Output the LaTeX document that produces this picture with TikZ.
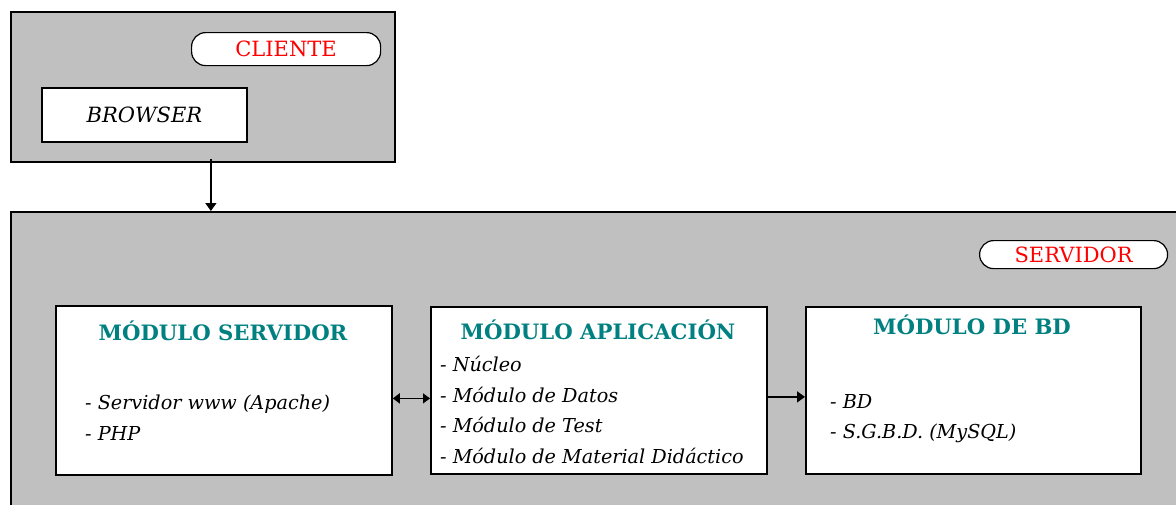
\documentclass[tikz,border=0pt]{standalone}
\usepackage{fontspec}
\setmainfont{DejaVu Serif}
\usetikzlibrary{arrows.meta,calc}
\definecolor{panelgray}{HTML}{C0C0C0}
\definecolor{titleteal}{HTML}{008080}
\definecolor{tagred}{HTML}{FF0000}
\tikzset{
  panel/.style={draw=black, line width=1.8pt, fill=panelgray, rectangle, inner sep=0pt},
  modbox/.style={draw=black, line width=1.8pt, fill=white, rectangle, inner sep=0pt},
  tag/.style={draw=black, line width=1.2pt, fill=white, rectangle, rounded corners=14pt,
              inner sep=0pt, font=\fontsize{21}{24}\selectfont, text=tagred},
  modtitle/.style={font=\fontsize{21.2}{24}\selectfont\bfseries, text=titleteal, inner sep=0pt},
  modlist/.style={font=\fontsize{19.2}{30.5}\selectfont\itshape, align=left, inner sep=0pt, anchor=north west},
  link/.style={line width=1.5pt, -{Triangle[length=8pt,width=11pt]}},
  biline/.style={line width=1.5pt, {Triangle[length=7pt,width=10pt]}-{Triangle[length=7pt,width=10pt]}},
}
\begin{document}
\begin{tikzpicture}[x=1pt,y=-1pt]
\useasboundingbox (0,0) rectangle (1176,504);
\fill[white] (0,0) rectangle (1176,504);

% client side
\node[panel, minimum width=384pt, minimum height=150pt, anchor=north west] (client) at (10,11) {};
\node[tag, minimum width=189pt, minimum height=33pt, anchor=north west] (clientetag) at (191,32) {CLIENTE};
\node[modbox, minimum width=205pt, minimum height=54pt, anchor=north west,
      font=\fontsize{21}{24}\selectfont\itshape] (browser) at (41,87) {BROWSER};

% server side (runs off the right and bottom edges)
\node[panel, minimum width=1190pt, minimum height=310pt, anchor=north west] (server) at (10,211) {};
\node[tag, minimum width=188pt, minimum height=28pt, anchor=north west] (servidortag) at (979,240) {SERVIDOR};

% module boxes
\node[modbox, minimum width=336pt, minimum height=169pt, anchor=north west] (modserv) at (55,305) {};
\node[modbox, minimum width=336pt, minimum height=167pt, anchor=north west] (modapp) at (430,306) {};
\node[modbox, minimum width=335pt, minimum height=167pt, anchor=north west] (modbd) at (805,306) {};

\node[modtitle] (tserv) at (223,331) {MÓDULO SERVIDOR};
\node[modtitle] (tapp) at (598,330) {MÓDULO APLICACIÓN};
\node[modtitle] (tbd) at (972,325) {MÓDULO DE BD};

\node[modlist] (lserv) at (85,395) {- Servidor www (Apache)\\- PHP};
\node[modlist] (lapp) at (440,356) {- Núcleo\\- Módulo de Datos\\- Módulo de Test\\- Módulo de Material Didáctico};
\node[modlist] (lbd) at (830,394) {- BD\\- S.G.B.D. (MySQL)};

% connectors
\draw[link] ([xshift=8pt,yshift=4pt]client.south) -- ([xshift=8pt]client.south |- server.north);
\draw[biline] ([yshift=-8pt]modserv.east) -- ([yshift=-8pt]modserv.east -| modapp.west);
\draw[link] ([yshift=-6.5pt]modapp.east) -- ([yshift=-6.5pt]modapp.east -| modbd.west);
\end{tikzpicture}
\end{document}
